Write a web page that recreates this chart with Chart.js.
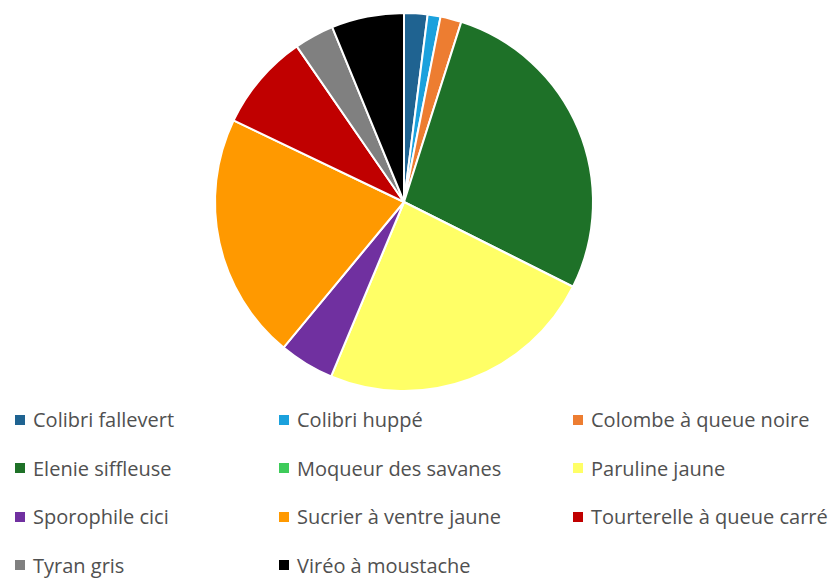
<!DOCTYPE html>
<html>
<head>
<meta charset="utf-8">
<script src="https://cdn.jsdelivr.net/npm/chart.js@4/dist/chart.umd.min.js"></script>
<style>
  html, body { margin: 0; padding: 0; background: #fff; }
  #wrap { position: relative; width: 837px; height: 579px; overflow: hidden; }
  #chartBox { position: absolute; left: 0; top: 12px; width: 808px; height: 380px; }
  #legend { position: absolute; left: 15px; top: 406px; width: 822px; }
  .item { position: absolute; display: flex; align-items: center; white-space: nowrap;
          font-family: "Liberation Sans Narrow", "Open Sans", sans-serif; font-size: 20px; color: #505050; }
  .box { width: 10px; height: 10px; margin-right: 8px; flex: none; }
</style>
</head>
<body>
<div id="wrap">
  <div id="chartBox"><canvas id="pieChart"></canvas></div>
  <div id="legend"></div>
</div>
<script>
const labels = ['Colibri fallevert', 'Colibri huppé', 'Colombe à queue noire', 'Elenie siffleuse',
  'Moqueur des savanes', 'Paruline jaune', 'Sporophile cici', 'Sucrier à ventre jaune',
  'Tourterelle à queue carré', 'Tyran gris', 'Viréo à moustache'];
// share of each species (%)
const values = [2.0, 1.1, 1.8, 27.5, 0, 23.9, 4.7, 21.1, 8.3, 3.4, 6.2];
const colors = ['#1f6391', '#1ba1dd', '#ed7d31', '#1e7128', '#3ecb5a', '#ffff66',
  '#7030a0', '#ff9900', '#c00000', '#808080', '#000000'];

const ctx = document.getElementById('pieChart').getContext('2d');
const pieChart = new Chart(ctx, {
  type: 'pie',
  data: {
    labels: labels,
    datasets: [{
      data: values,
      backgroundColor: colors,
      borderColor: '#ffffff',
      borderWidth: 2
    }]
  },
  options: {
    responsive: true,
    maintainAspectRatio: false,
    animation: false,
    layout: { padding: 0 },
    plugins: {
      legend: { display: false },
      tooltip: { enabled: false }
    }
  }
});

// legend laid out in three columns like the original
const legendEl = document.getElementById('legend');
const colX = [0, 264, 558];
const rowY = [0, 48.5, 97, 145.5];
labels.forEach((name, i) => {
  const item = document.createElement('div');
  item.className = 'item';
  item.style.left = colX[i % 3] + 'px';
  item.style.top = rowY[Math.floor(i / 3)] + 'px';
  const box = document.createElement('span');
  box.className = 'box';
  box.style.background = colors[i];
  const txt = document.createElement('span');
  txt.textContent = name;
  item.appendChild(box);
  item.appendChild(txt);
  legendEl.appendChild(item);
});
</script>
</body>
</html>
